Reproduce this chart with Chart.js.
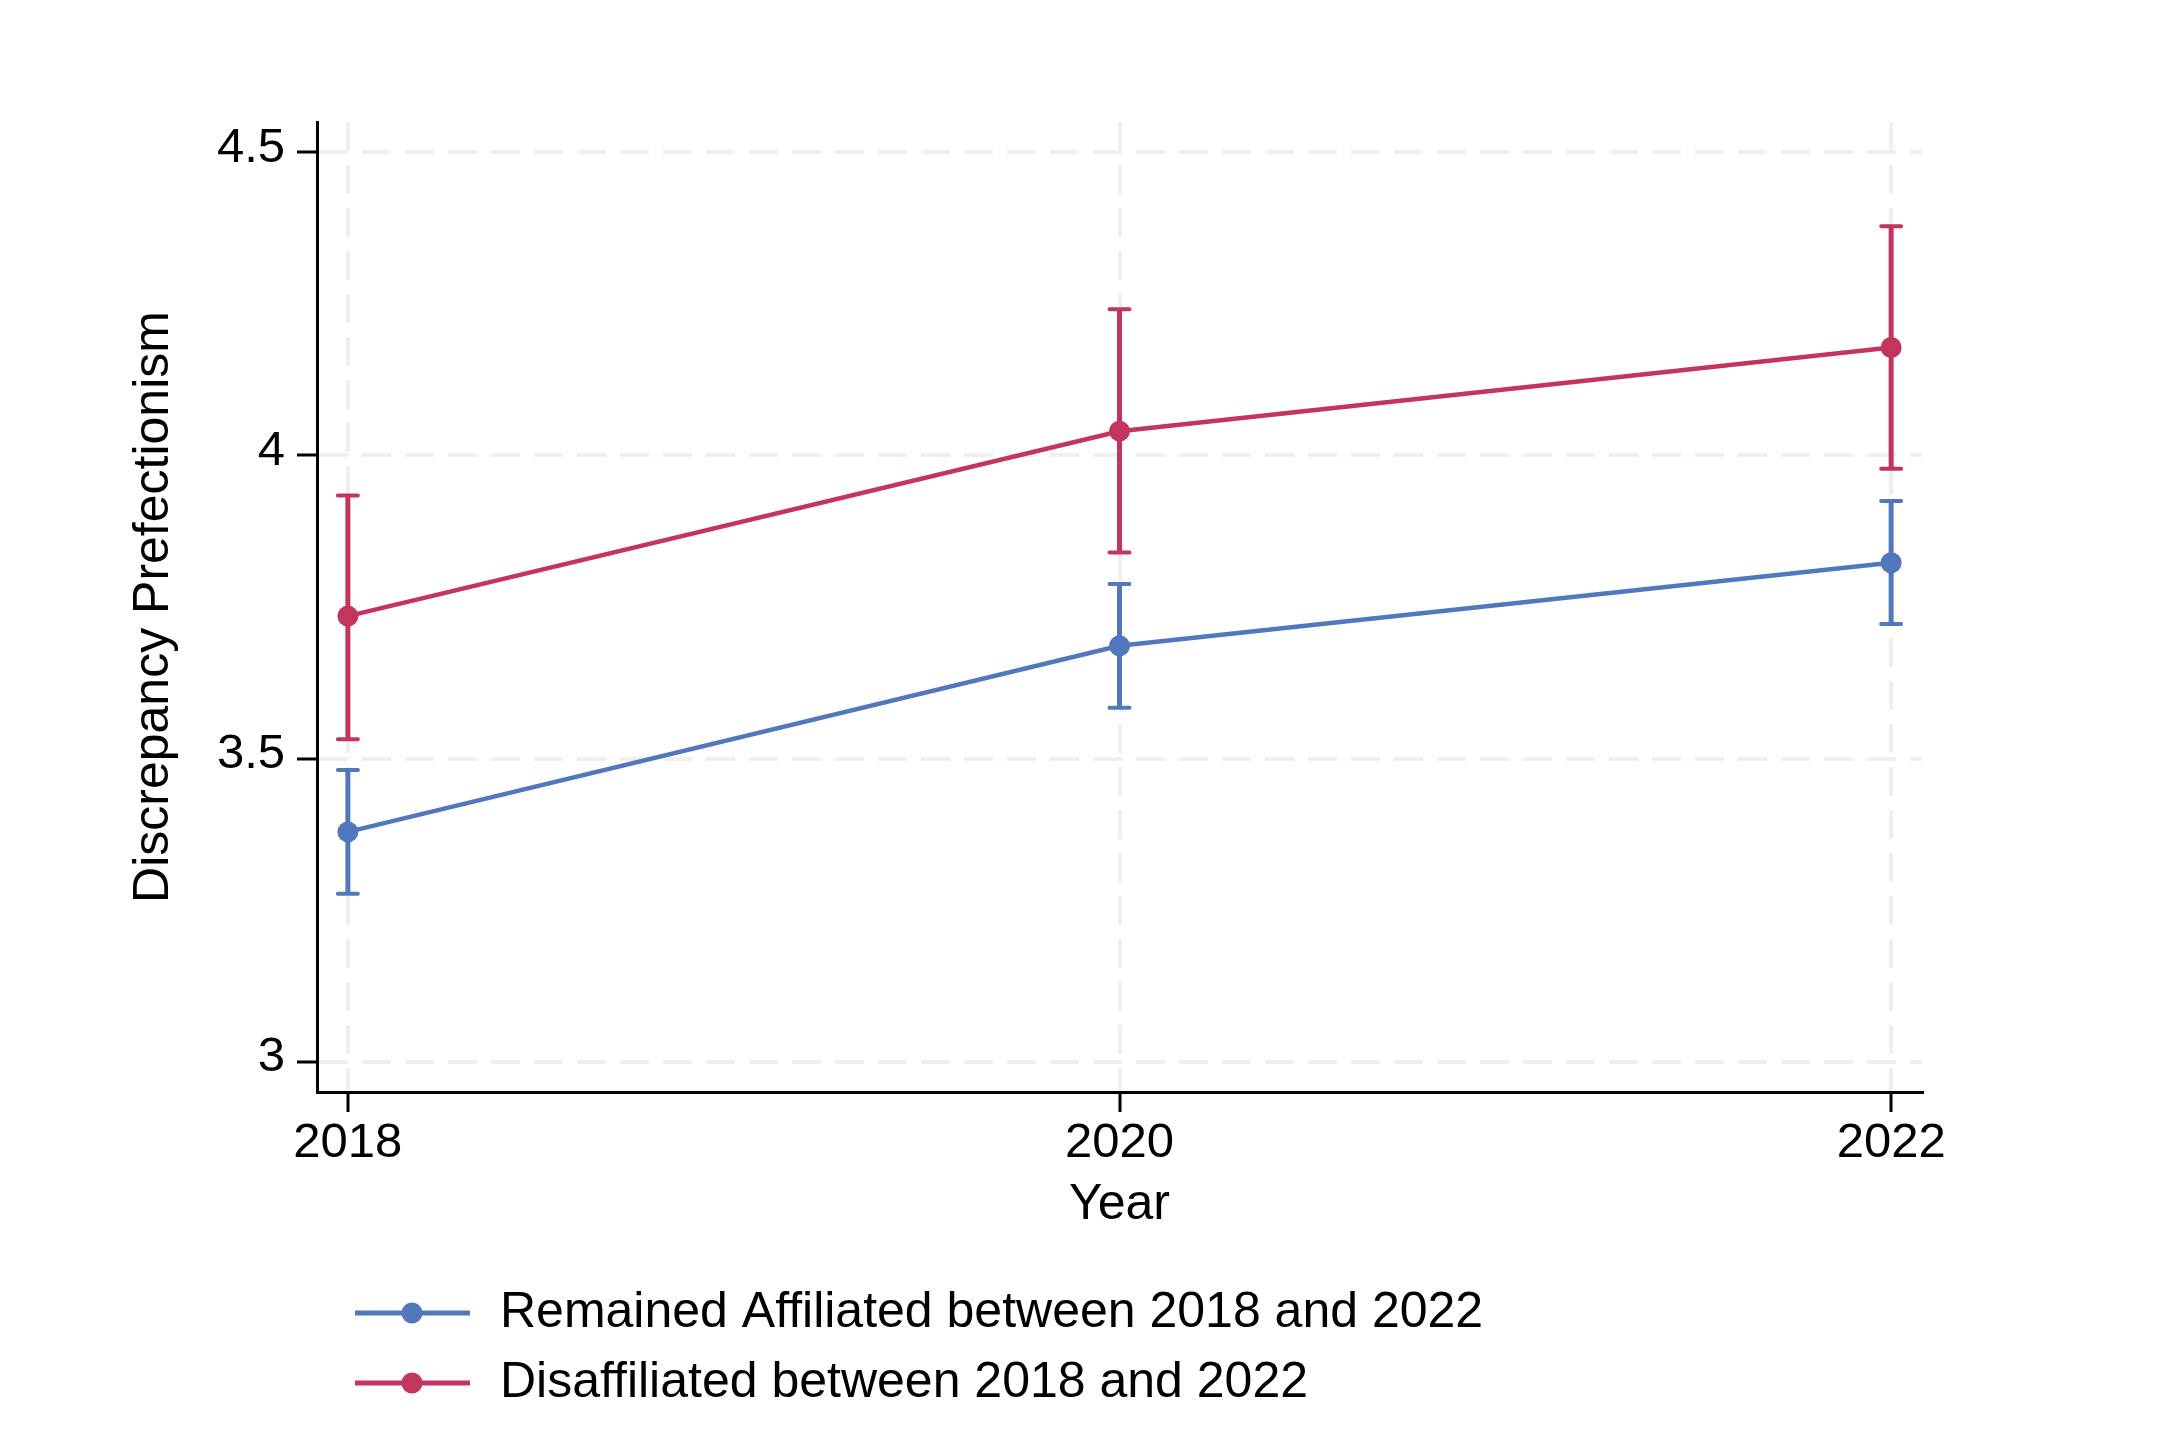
<!DOCTYPE html>
<html>
<head>
<meta charset="utf-8">
<script src="https://cdn.jsdelivr.net/npm/chart.js@4.4.1/dist/chart.umd.min.js"></script>
<style>
  html, body { margin: 0; padding: 0; background: #fff; }
  #wrap { width: 2168px; height: 1448px; }
</style>
</head>
<body>
<div id="wrap"><canvas id="chart" width="2168" height="1448"></canvas></div>
<script>
  // values
  const years = [2018, 2020, 2022];
  const yTicks = [3, 3.5, 4, 4.5];

  const remainedMean = [3.379, 3.686, 3.823];
  const remainedLow  = [3.277, 3.584, 3.722];
  const remainedHigh = [3.481, 3.788, 3.925];

  const disaffMean = [3.735, 4.040, 4.178];
  const disaffLow  = [3.532, 3.840, 3.978];
  const disaffHigh = [3.934, 4.241, 4.378];

  const labels = ['Remained Affiliated between 2018 and 2022', 'Disaffiliated between 2018 and 2022'];
  const colors = ['#5177bd', '#c4355e'];
  const lows = [remainedLow, disaffLow];
  const highs = [remainedHigh, disaffHigh];

  const FONT = 'Liberation Sans, Arial, Helvetica, sans-serif';
  const GRID = '#efefef';

  const toPoints = arr => years.map((yr, i) => ({x: yr, y: arr[i]}));

  // confidence intervals with caps, drawn under the markers
  const errorBars = {
    id: 'errorBars',
    beforeDatasetsDraw(chart){
      const {ctx, scales: {x, y}} = chart;
      ctx.save();
      chart.data.datasets.forEach((ds, i) => {
        ctx.strokeStyle = colors[i];
        years.forEach((yr, j) => {
          const px = x.getPixelForValue(yr);
          const top = y.getPixelForValue(highs[i][j]);
          const bot = y.getPixelForValue(lows[i][j]);
          ctx.lineWidth = 5;
          ctx.lineCap = 'butt';
          ctx.beginPath();
          ctx.moveTo(px, top); ctx.lineTo(px, bot);
          ctx.stroke();
          ctx.lineWidth = 4;
          ctx.lineCap = 'round';
          ctx.beginPath();
          ctx.moveTo(px - 10, top); ctx.lineTo(px + 10, top);
          ctx.moveTo(px - 10, bot); ctx.lineTo(px + 10, bot);
          ctx.stroke();
        });
      });
      ctx.restore();
    }
  };

  // stata-style legend: line + marker, one row per series
  const legendRows = {
    id: 'legendRows',
    afterDraw(chart){
      const {ctx} = chart;
      ctx.save();
      chart.data.datasets.forEach((ds, i) => {
        const yy = 1313 + i * 70;
        ctx.strokeStyle = colors[i];
        ctx.lineWidth = 5;
        ctx.beginPath();
        ctx.moveTo(355, yy); ctx.lineTo(470, yy);
        ctx.stroke();
        ctx.fillStyle = colors[i];
        ctx.beginPath();
        ctx.arc(412, yy, 10.5, 0, Math.PI * 2);
        ctx.fill();
        ctx.fillStyle = '#000';
        ctx.font = '50px ' + FONT;
        ctx.textBaseline = 'middle';
        ctx.textAlign = 'left';
        ctx.fillText(ds.label, 500, yy);
      });
      ctx.restore();
    }
  };

  new Chart(document.getElementById('chart'), {
    type: 'line',
    data: {
      datasets: [
        {label: labels[0], data: toPoints(remainedMean)},
        {label: labels[1], data: toPoints(disaffMean)}
      ].map((ds, i) => Object.assign(ds, {
        borderColor: colors[i],
        backgroundColor: colors[i],
        pointBackgroundColor: colors[i],
        pointBorderWidth: 0,
        pointRadius: 10.5,
        borderWidth: 4.5,
        tension: 0,
        fill: false
      }))
    },
    options: {
      responsive: false,
      animation: false,
      devicePixelRatio: 1,
      layout: { padding: { left: 0, top: 122, right: 246, bottom: 213 } },
      plugins: { legend: { display: false }, tooltip: { enabled: false } },
      scales: {
        x: {
          type: 'linear',
          min: 2017.92,
          max: 2022.08,
          afterBuildTicks: s => { s.ticks = years.map(v => ({value: v})); },
          afterFit: s => { s.height = 143; },
          ticks: {
            color: '#000',
            padding: 2,
            font: { family: FONT, size: 49 },
            callback: v => String(v)
          },
          grid: {
            color: GRID, lineWidth: 4,
            tickColor: '#000', tickWidth: 3, tickLength: 20
          },
          border: { display: true, color: '#000', width: 3, dash: [29, 14] },
          title: {
            display: true, text: 'Year', color: '#000',
            font: { family: FONT, size: 50 },
            padding: { top: 0, bottom: 0 }
          }
        },
        y: {
          type: 'linear',
          min: 2.95,
          max: 4.55,
          afterBuildTicks: s => { s.ticks = yTicks.map(v => ({value: v})); },
          afterFit: s => { s.width = 317; },
          ticks: {
            color: '#000',
            padding: 12,
            labelOffset: -4,
            font: { family: FONT, size: 49 },
            callback: v => String(v)
          },
          grid: {
            color: GRID, lineWidth: 4,
            tickColor: '#000', tickWidth: 3, tickLength: 20
          },
          border: { display: true, color: '#000', width: 3, dash: [29, 14] },
          title: {
            display: true, text: 'Discrepancy Prefectionism', color: '#000',
            font: { family: FONT, size: 50 },
            padding: { top: 124, bottom: 0 }
          }
        }
      }
    },
    plugins: [errorBars, legendRows]
  });
</script>
</body>
</html>
